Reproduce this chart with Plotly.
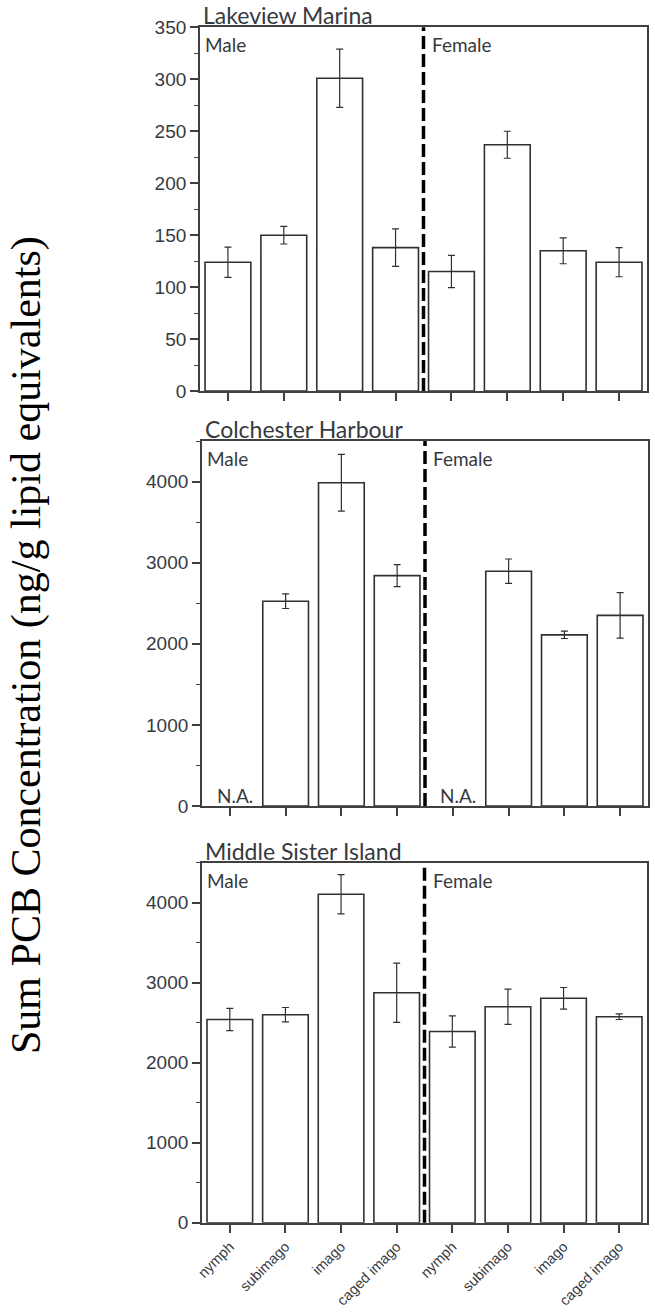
import plotly.graph_objects as go

# ---------------- data ----------------
stages = ["nymph", "subimago", "imago", "caged imago"]
sexes = ["Male", "Female"]
tick_labels = stages + stages

site_names = ["Lakeview Marina", "Colchester Harbour", "Middle Sister Island"]

lakeview_mean = [124, 150, 301, 138, 115, 237, 135, 124]
lakeview_err = [14.5, 8.5, 28, 18, 15.5, 13, 12.5, 14]

colchester_mean = [None, 2525, 3985, 2840, None, 2895, 2110, 2350]
colchester_err = [None, 90, 350, 135, None, 150, 45, 280]

middle_mean = [2540, 2600, 4105, 2875, 2390, 2700, 2805, 2575]
middle_err = [140, 90, 245, 370, 195, 220, 135, 35]

y_ranges = [[0, 350], [0, 4500], [0, 4500]]
y_dticks = [50, 1000, 1000]

y_title = "Sum PCB Concentration (ng/g lipid equivalents)"

# ---------------- layout geometry ----------------
W, H = 655, 1316
def py(p):
    return 1 - p / H

panels_px = [  # (left, right, top, bottom) in pixels
    (200, 647, 27.3, 391.1),
    (202, 648, 441.0, 806.0),
    (202, 647, 862.7, 1222.7),
]

text_color = "#363a40"
axis_color = "#404040"
tick_font = dict(family="Liberation Sans, Arial, sans-serif", size=19, color=text_color)
label_font = dict(family="Lato, sans-serif", size=19, color=text_color)
title_font = dict(family="Lato, sans-serif", size=23, color=text_color)

fig = go.Figure()
means = [lakeview_mean, colchester_mean, middle_mean]
errs = [lakeview_err, colchester_err, middle_err]
xpos = list(range(len(tick_labels)))

for i in range(3):
    sfx = "" if i == 0 else str(i + 1)
    fig.add_trace(go.Bar(
        x=xpos, y=means[i],
        xaxis="x" + sfx, yaxis="y" + sfx,
        width=0.82,
        marker=dict(color="white", line=dict(color="#303030", width=1.6)),
        error_y=dict(type="data", array=errs[i], visible=True,
                     color="#303030", thickness=1.2, width=3.5),
        showlegend=False,
    ))

layout = dict(
    width=W, height=H,
    margin=dict(l=0, r=0, t=0, b=0),
    paper_bgcolor="white", plot_bgcolor="white",
    bargap=0.18,
)

shapes = []
annotations = []
n = len(tick_labels)
for i, (l, r, t, b) in enumerate(panels_px):
    sfx = "" if i == 0 else str(i + 1)
    layout["xaxis" + sfx] = dict(
        domain=[l / W, r / W], anchor="y" + sfx,
        range=[-0.5, n - 0.5],
        tickmode="array", tickvals=xpos,
        ticktext=tick_labels if i == 2 else [""] * n,
        showticklabels=(i == 2), tickangle=-45,
        tickfont=dict(family="Liberation Sans, Arial, sans-serif", size=14.5, color=text_color),
        ticks="outside", ticklen=8, tickwidth=1.5, tickcolor=axis_color,
        showline=True, linecolor=axis_color, linewidth=1.8, mirror=True,
        showgrid=False, zeroline=False, automargin=False, fixedrange=True,
    )
    layout["yaxis" + sfx] = dict(
        domain=[py(b), py(t)], anchor="x" + sfx,
        range=y_ranges[i], dtick=y_dticks[i], tick0=0,
        tickfont=tick_font,
        ticks="outside", ticklen=8, tickwidth=1.5, tickcolor=axis_color,
        minor=dict(ticks="outside", ticklen=4, tickwidth=1.2, tickcolor=axis_color,
                   dtick=y_dticks[i] / 2, tick0=0),
        showline=True, linecolor=axis_color, linewidth=1.8, mirror=True,
        showgrid=False, zeroline=False, automargin=False, fixedrange=True,
    )
    # dashed separator between Male and Female
    shapes.append(dict(type="line", xref="x" + sfx, yref="y" + sfx + " domain",
                       x0=(n - 1) / 2, x1=(n - 1) / 2, y0=0, y1=1,
                       line=dict(color="black", width=3.5, dash="13px,5px")))
    # site title
    annotations.append(dict(text=site_names[i], xref="x" + sfx + " domain",
                            yref="y" + sfx + " domain", x=0, y=1,
                            xanchor="left", yanchor="bottom", xshift=1, yshift=-4,
                            showarrow=False, font=title_font))
    # sex labels
    annotations.append(dict(text=sexes[0], xref="x" + sfx + " domain",
                            yref="y" + sfx + " domain", x=0, y=1,
                            xanchor="left", yanchor="top", xshift=3, yshift=-4,
                            showarrow=False, font=label_font))
    annotations.append(dict(text=sexes[1], xref="x" + sfx,
                            yref="y" + sfx + " domain", x=(n - 1) / 2, y=1,
                            xanchor="left", yanchor="top", xshift=6, yshift=-4,
                            showarrow=False, font=label_font))
    # N.A. markers for missing values
    for j, v in enumerate(means[i]):
        if v is None:
            annotations.append(dict(text="N.A.", xref="x" + sfx,
                                    yref="y" + sfx + " domain", x=j, y=0,
                                    xanchor="center", yanchor="bottom",
                                    xshift=5, yshift=-3,
                                    showarrow=False, font=label_font))

annotations.append(dict(text=y_title, xref="paper", yref="paper",
                        x=27 / W, y=py(645), xanchor="center", yanchor="middle",
                        textangle=-90, showarrow=False,
                        font=dict(family="Liberation Serif, Times New Roman, serif",
                                  size=42, color="black")))

layout["shapes"] = shapes
layout["annotations"] = annotations
fig.update_layout(**layout)

fig.write_html("out.html")
